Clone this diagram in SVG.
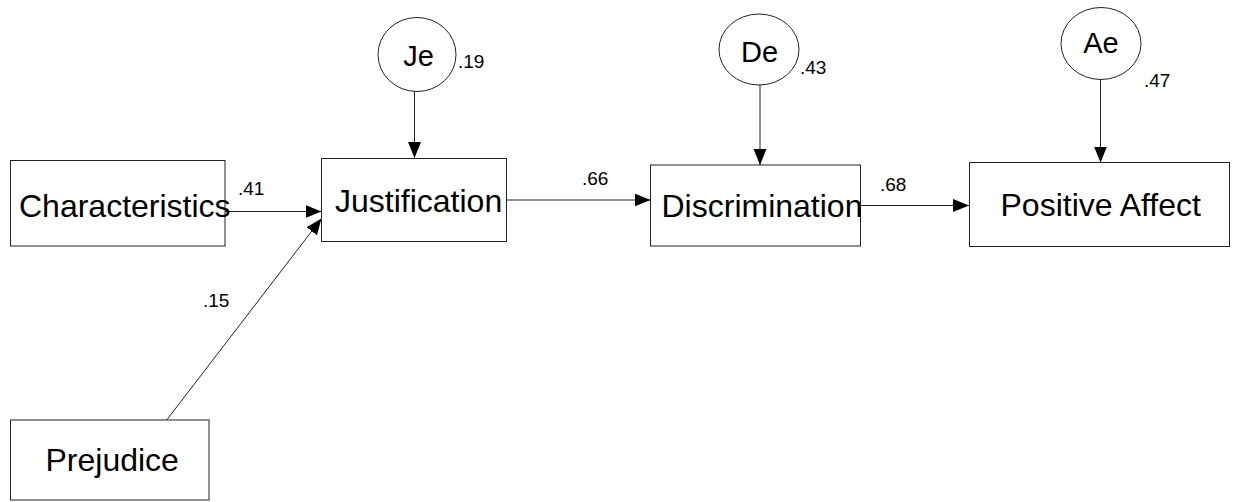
<svg xmlns="http://www.w3.org/2000/svg" width="1238" height="502" viewBox="0 0 1238 502">
<style>
.box{fill:#fff;stroke:#222;stroke-width:1}
.lat{fill:#fff;stroke:#222;stroke-width:1}
.lbl{font-family:"Liberation Sans",Arial,sans-serif;font-size:32px;fill:#000}
.clbl{font-family:"Liberation Sans",Arial,sans-serif;font-size:29px;fill:#000;text-anchor:middle}
.num{font-family:"Liberation Sans",Arial,sans-serif;font-size:19px;fill:#000}
.edge{stroke:#222;stroke-width:1;fill:none;marker-end:url(#ah)}
</style>
<defs>
<marker id="ah" markerUnits="userSpaceOnUse" markerWidth="17" markerHeight="14" refX="16" refY="6.5" orient="auto">
<path d="M0,0 L16,6.5 L0,13 z" fill="#000"/>
</marker>
</defs>
<rect width="1238" height="502" fill="#fff"/>
<g id="connectors">
<line class="edge" x1="225" y1="211.5" x2="321.5" y2="211.5"/>
<line class="edge" x1="166.7" y1="420" x2="321.5" y2="218.5"/>
<line class="edge" x1="414.5" y1="91.5" x2="414.5" y2="158"/>
<line class="edge" x1="506.7" y1="200" x2="650.5" y2="200"/>
<line class="edge" x1="760" y1="85" x2="760" y2="165"/>
<line class="edge" x1="860.7" y1="205.5" x2="969" y2="205.5"/>
<line class="edge" x1="1100.5" y1="79.5" x2="1100.5" y2="162.5"/>
<text class="num" x="238" y="195">.41</text>
<text class="num" x="203" y="307">.15</text>
<text class="num" x="582" y="185">.66</text>
<text class="num" x="880" y="190.5">.68</text>
</g>
<g id="characteristics">
<rect class="box" x="10.5" y="160.5" width="214.5" height="85.5"/>
<text class="lbl" x="19" y="216.7">Characteristics</text>
</g>
<g id="prejudice">
<rect class="box" x="10.5" y="420" width="198.5" height="80"/>
<text class="lbl" x="45.5" y="470.7">Prejudice</text>
</g>
<g id="justification">
<rect class="box" x="321.5" y="158.5" width="185" height="83"/>
<text class="lbl" x="335" y="211.7">Justification</text>
</g>
<g id="discrimination">
<rect class="box" x="650.5" y="165" width="210" height="81"/>
<text class="lbl" x="661.5" y="216.7">Discrimination</text>
</g>
<g id="positive-affect">
<rect class="box" x="969.5" y="162.5" width="260" height="84"/>
<text class="lbl" x="1000.5" y="216">Positive Affect</text>
</g>
<g id="je">
<ellipse class="lat" cx="417" cy="54.5" rx="39" ry="37"/>
<text class="clbl" x="418.5" y="66">Je</text>
<text class="num" x="458" y="68">.19</text>
</g>
<g id="de">
<ellipse class="lat" cx="759" cy="49.5" rx="40" ry="35.5"/>
<text class="clbl" x="759.5" y="61.7">De</text>
<text class="num" x="800" y="74">.43</text>
</g>
<g id="ae">
<ellipse class="lat" cx="1101" cy="43.5" rx="40" ry="36"/>
<text class="clbl" x="1101" y="53.3">Ae</text>
<text class="num" x="1144" y="87">.47</text>
</g>
</svg>
